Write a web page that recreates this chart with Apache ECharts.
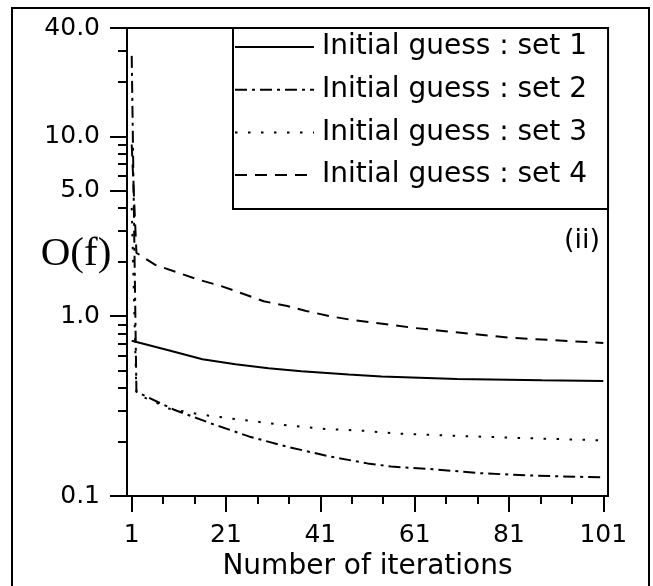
<!DOCTYPE html>
<html>
<head>
<meta charset="utf-8">
<script src="https://cdn.jsdelivr.net/npm/echarts@6/dist/echarts.min.js"></script>
<style>
  html, body { margin: 0; padding: 0; background: #ffffff; }
  #chart { width: 653px; height: 586px; }
</style>
</head>
<body>
<div id="chart"></div>
<script>
// Objective function O(f) against iteration count for four starting guesses
const seriesNames = [
  'Initial guess : set 1',
  'Initial guess : set 2',
  'Initial guess : set 3',
  'Initial guess : set 4'
];

const iterSet1 = [1, 9, 16, 23, 30, 37, 47, 54, 70, 88, 101];
const valSet1  = [0.73, 0.645, 0.576, 0.54, 0.514, 0.495, 0.474, 0.462, 0.447, 0.44, 0.437];

const iterSet2 = [1, 2, 10, 18, 26, 34, 43, 51, 56, 65, 75, 86, 96, 101];
const valSet2  = [28, 0.38, 0.302, 0.2525, 0.214, 0.188, 0.166, 0.152, 0.146, 0.141, 0.134, 0.130, 0.128, 0.127];

const iterSet3 = [1, 2, 9, 16, 24, 33, 41, 50, 57, 68, 82, 101];
const valSet3  = [4.0, 0.37, 0.306, 0.283, 0.266, 0.249, 0.237, 0.231, 0.223, 0.217, 0.211, 0.204];

const iterSet4 = [1, 2, 6, 11, 15, 20, 24, 29, 34, 38, 43, 47, 61, 81, 101];
const valSet4  = [9, 2.25, 1.93, 1.74, 1.60, 1.47, 1.35, 1.21, 1.14, 1.07, 1.0, 0.96, 0.86, 0.76, 0.71];

// Axis ticks
const xTickValues = [1, 21, 41, 61, 81, 101];
const yLabelValues = [0.1, 1, 5, 10, 40];
const yMinorTickValues = [0.2, 0.3, 0.4, 0.5, 0.6, 0.7, 0.8, 0.9, 2, 3, 4, 6, 7, 8, 9, 20, 30];

// two minor ticks between each pair of labelled iteration ticks
const xMinorTickValues = [];
for (let i = 0; i < xTickValues.length - 1; i++) {
  const a = xTickValues[i], b = xTickValues[i + 1];
  xMinorTickValues.push(a + (b - a) / 3, a + 2 * (b - a) / 3);
}

const pairs = (xs, ys) => xs.map((x, i) => [x, ys[i]]);

const FONT = 'DejaVu Sans';
const INK = '#000000';

// solid, dash-dot, dotted, dashed
const dashPatterns = ['solid', [12, 5, 3, 5], [2.5, 10.5], [12, 8]];
const seriesData = [
  pairs(iterSet1, valSet1),
  pairs(iterSet2, valSet2),
  pairs(iterSet3, valSet3),
  pairs(iterSet4, valSet4)
];

const chart = echarts.init(document.getElementById('chart'), null, { renderer: 'canvas' });

const tickLine = { lineStyle: { color: INK, width: 2 } };

chart.setOption({
  backgroundColor: '#ffffff',
  animation: false,
  grid: {
    left: 127, top: 28, right: 45, bottom: 86,
    show: true, borderColor: INK, borderWidth: 2, backgroundColor: 'transparent'
  },
  legend: {
    orient: 'vertical',
    left: 233, top: 28,
    padding: [5, 21, 20, 1],
    itemWidth: 79, itemHeight: 28, itemGap: 14.7,
    borderColor: INK, borderWidth: 2,
    backgroundColor: '#ffffff',
    data: seriesNames,
    // line-only keys: hide the marker that line series add to their legend icon
    itemStyle: { color: 'transparent', borderWidth: 0, opacity: 0 },
    lineStyle: { width: 2, color: INK },
    textStyle: { fontFamily: FONT, fontSize: 28, lineHeight: 28, color: INK, padding: [0, 0, 0, 3] }
  },
  xAxis: [
    {
      type: 'value', min: 0, max: 102,
      axisLine: { show: true, lineStyle: { color: INK, width: 2 } },
      axisTick: { show: true, inside: false, length: 16, customValues: xTickValues, ...tickLine },
      axisLabel: { customValues: xTickValues, margin: 27, fontFamily: FONT, fontSize: 25, color: INK },
      splitLine: { show: false },
      name: 'Number of iterations', nameLocation: 'middle', nameGap: 54,
      nameTextStyle: { fontFamily: FONT, fontSize: 28, color: INK }
    },
    {
      type: 'value', min: 0, max: 102, position: 'bottom',
      axisLine: { show: false },
      axisTick: { show: true, inside: false, length: 8, customValues: xMinorTickValues, ...tickLine },
      axisLabel: { show: false },
      splitLine: { show: false }
    }
  ],
  yAxis: [
    {
      type: 'log', logBase: 10, min: 0.1, max: 40,
      axisLine: { show: true, lineStyle: { color: INK, width: 2 } },
      axisTick: { show: true, inside: false, length: 17, customValues: yLabelValues, ...tickLine },
      axisLabel: {
        customValues: yLabelValues, margin: 27, fontFamily: FONT, fontSize: 25, color: INK,
        formatter: v => Number(v).toFixed(1)
      },
      splitLine: { show: false }
    },
    {
      type: 'log', logBase: 10, min: 0.1, max: 40, position: 'left',
      axisLine: { show: false },
      axisTick: { show: true, inside: false, length: 9, customValues: yMinorTickValues, ...tickLine },
      axisLabel: { show: false },
      splitLine: { show: false }
    }
  ],
  series: seriesNames.map((name, i) => ({
    name,
    type: 'line',
    xAxisIndex: 0,
    yAxisIndex: 0,
    data: seriesData[i],
    symbol: 'none',
    smooth: false,
    color: INK,
    lineStyle: { color: INK, width: 2, type: dashPatterns[i] },
    z: 3
  })),
  graphic: [
    {
      type: 'rect', silent: true, z: 100,
      shape: { x: 12, y: 8, width: 637, height: 600 },
      style: { fill: 'none', stroke: INK, lineWidth: 2 }
    },
    {
      type: 'text', silent: true, z: 100,
      x: 76, y: 254,
      style: {
        text: 'O(f)', fontFamily: 'Liberation Serif', fontSize: 41, fill: INK,
        align: 'center', verticalAlign: 'middle'
      }
    },
    {
      type: 'text', silent: true, z: 100,
      x: 600, y: 241,
      style: {
        text: '(ii)', fontFamily: FONT, fontSize: 27, fill: INK,
        align: 'right', verticalAlign: 'middle'
      }
    }
  ]
});
</script>
</body>
</html>
